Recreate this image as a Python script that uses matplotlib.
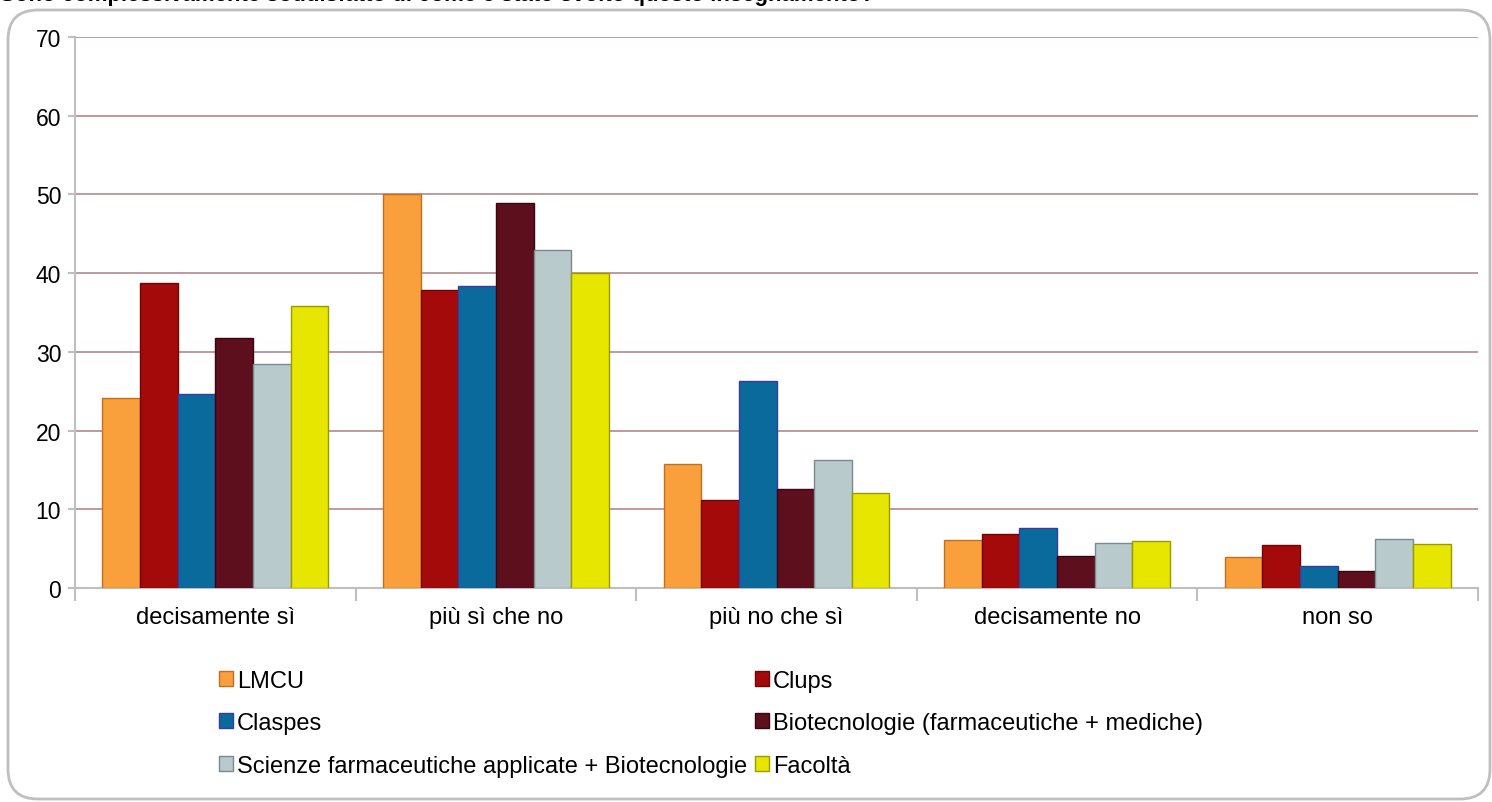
import numpy as np
import matplotlib.pyplot as plt
from matplotlib.patches import FancyBboxPatch, Patch

plt.rcParams['font.family'] = ['Liberation Sans', 'DejaVu Sans']

categories = ['decisamente sì', 'più sì che no', 'più no che sì', 'decisamente no', 'non so']
series_names = ['LMCU', 'Clups', 'Claspes', 'Biotecnologie (farmaceutiche + mediche)',
                'Scienze farmaceutiche applicate + Biotecnologie', 'Facoltà']
lmcu = [24.2, 50.0, 15.7, 6.1, 4.0]
clups = [38.7, 37.9, 11.2, 6.8, 5.5]
claspes = [24.6, 38.4, 26.3, 7.6, 2.8]
biotec = [31.7, 48.9, 12.6, 4.1, 2.2]
scienze = [28.5, 43.0, 16.2, 5.7, 6.2]
facolta = [35.8, 40.0, 12.1, 6.0, 5.6]
yticks = [0, 10, 20, 30, 40, 50, 60, 70]

series = [lmcu, clups, claspes, biotec, scienze, facolta]
colors = ['#F9A03C', '#A50A0A', '#0A6A9C', '#5E0F1E', '#B9CACD', '#E6E600']
edges = ['#C07020', '#700505', '#3A3AA0', '#3A0510', '#7A8A8C', '#9A9A00']

fig = plt.figure(figsize=(14.92, 8.03), dpi=100)
ax = fig.add_axes([75 / 1492, 1 - 589 / 803, 1403 / 1492, 551 / 803])

x = np.arange(len(categories))
w = 0.134
for j, (vals, c, ec) in enumerate(zip(series, colors, edges)):
    ax.bar(x + (j - 2.5) * w, vals, width=w, color=c, edgecolor=ec,
           linewidth=1, zorder=3)

ax.set_xlim(-0.5, len(categories) - 0.5)
ax.set_ylim(0, 70)
ax.set_yticks(yticks)
ax.yaxis.grid(True, color='#B4898E', linewidth=1.2, zorder=0)
ax.set_axisbelow(True)

ax.set_xticks(x)
ax.set_xticklabels(categories, fontsize=17)
ax.tick_params(axis='x', length=0, pad=13)
ax.set_xticks(np.arange(-0.5, len(categories), 1), minor=True)
ax.tick_params(axis='x', which='minor', length=9, color='#BFBFBF', width=1.5)
ax.tick_params(axis='y', labelsize=16.5, length=5, color='#BFBFBF', width=1.5, pad=5)

for s in ['top', 'right']:
    ax.spines[s].set_visible(False)
for s in ['left', 'bottom']:
    ax.spines[s].set_color('#BFBFBF')
    ax.spines[s].set_linewidth(1.5)

# legend: row-major order like the original
order = [0, 2, 4, 1, 3, 5]
handles = [Patch(facecolor=colors[i], edgecolor=edges[i]) for i in order]
labels = [series_names[i] for i in order]
fig.legend(handles, labels, ncol=2, loc='upper left',
           bbox_to_anchor=(219 / 1492, 1 - 671 / 803), frameon=False,
           fontsize=17, handlelength=0.6, handleheight=0.6,
           handletextpad=0.15, columnspacing=0.35, labelspacing=0.86,
           borderaxespad=0, borderpad=0)

# rounded chart border
border = FancyBboxPatch((0.08, 0.03), 14.82, 7.89,
                        boxstyle='round,pad=0,rounding_size=0.3',
                        transform=fig.dpi_scale_trans, facecolor='none',
                        edgecolor='#BFBFBF', linewidth=2, zorder=0)
fig.patches.append(border)

# title cut off at top edge
fig.text(0.0, 1 - 1 / 803,
         'Sono complessivamente soddisfatto di come è stato svolto questo insegnamento?',
         fontsize=16, fontweight='bold', va='baseline', ha='left')

fig.savefig('out.png', dpi=100, facecolor='white')
